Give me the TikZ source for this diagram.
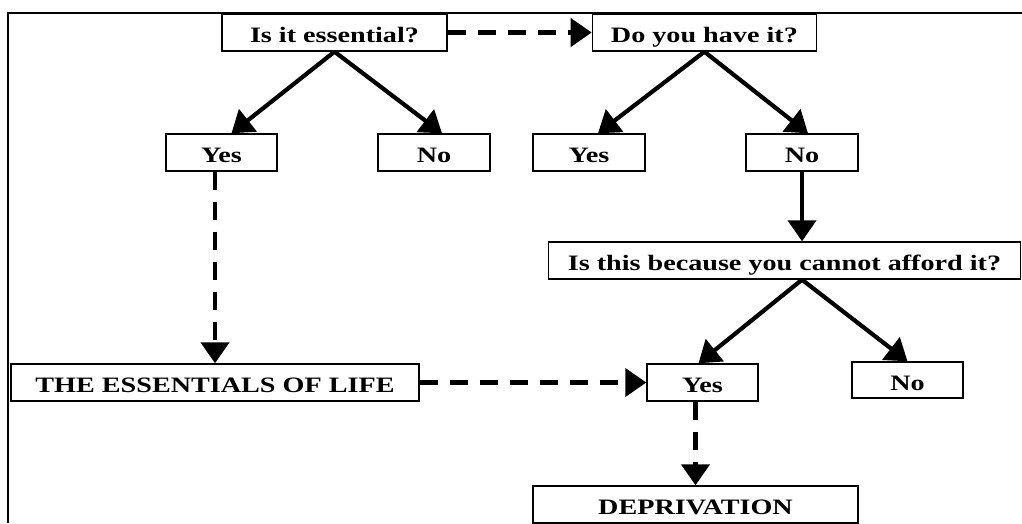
\documentclass[tikz,border=0pt]{standalone}
\usepackage{fontspec}
\setmainfont{Liberation Serif}[FakeStretch=1.28]
\usetikzlibrary{arrows.meta, calc, positioning}
\tikzstyle{box} = [rectangle, line width=1.4pt, minimum height=37pt, inner sep=0pt, text height=20pt, text depth=0pt, text centered, draw=black, font=\bfseries\fontsize{22}{24}\selectfont]
\tikzstyle{arrow} = [line width=4.2pt, -{Triangle[length=21pt, width=28pt]}]
\tikzstyle{dasharrow} = [arrow, dash pattern=on 18pt off 12pt]

\begin{document}
\begin{tikzpicture}[x=1pt, y=1pt]
	\useasboundingbox (0,0) rectangle (1022,-523);
	\draw[line width=1.4pt] (1022,-13) -- (8,-13) -- (8,-523);
	
	\node (Essential) [box, minimum width=225pt] at (334.5,-32.5) {Is it essential?};
	\node (HaveIt) [box, minimum width=224pt, right = 144pt of Essential] {Do you have it?};
	\node (EssYes) [box, minimum width=111pt] at (221.5,-152.5) {Yes};
	\node (EssNo) [box, minimum width=112pt] at (434,-152.5) {No};
	\node (HaveYes) [box, minimum width=112pt] at (589,-152.5) {Yes};
	\node (HaveNo) [box, minimum width=112pt] at (802,-152.5) {No};
	\node (Afford) [box, minimum width=472pt] at (784.5,-260.5) {Is this because you cannot afford it?};
	\node (Life) [box, minimum width=408pt] at (215,-382.5) {THE ESSENTIALS OF LIFE};
	\node (AffYes) [box, minimum width=111pt] at (702.5,-382.5) {Yes};
	\node (AffNo) [box, minimum width=111pt, minimum height=36pt] at (907.5,-380) {No};
	\node (Deprivation) [box, minimum width=325pt] at (695.5,-504.5) {DEPRIVATION};
	
	\coordinate (AffordOut) at (HaveNo.south |- Afford.south);
	
	\draw [arrow] (Essential.south) -- ([xshift=10pt]EssYes.north);
	\draw [arrow] (Essential.south) -- ([xshift=8pt]EssNo.north);
	\draw [arrow] (HaveIt.south) -- ([xshift=9pt]HaveYes.north);
	\draw [arrow] (HaveIt.south) -- ([xshift=6pt]HaveNo.north);
	\draw [arrow] (HaveNo.south) -- (HaveNo.south |- Afford.north);
	\draw [arrow] (AffordOut) -- ([xshift=-4pt]AffYes.north);
	\draw [arrow] (AffordOut) -- (AffNo.north);
	\draw [dasharrow] (Essential) -- (HaveIt);
	\draw [dasharrow] (Life.north |- EssYes.south) -- (Life.north);
	\draw [dasharrow] (Life) -- (AffYes);
	\draw [dasharrow] (Deprivation.north |- AffYes.south) -- (Deprivation.north);
\end{tikzpicture}
\end{document}
